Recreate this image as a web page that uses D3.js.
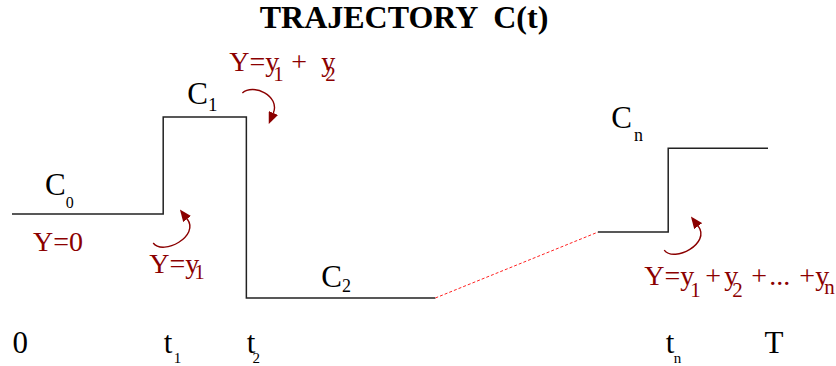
<html>
<head>
<meta charset="utf-8">
<script src="https://cdn.jsdelivr.net/npm/d3@7"></script>
</head>
<body style="margin:0;background:#fff">
<div id="chart"></div>
<script>
// trajectory C(t): piecewise constant, jumps at t1, t2, ..., tn
const title = "TRAJECTORY  C(t)";

// bottom labels (time axis)
const tickTimes = [0, 2.0, 3.1, 8.68, 10];
const tickNames = ["0", "t", "t", "t", "T"];
const tickSubs = ["", "1", "2", "n", ""];

// first stretch C0 -> C1 -> C2 (step after)
const times1 = [0, 2.0, 3.1, 5.6];
const levels1 = [2.32, 5, 0, 0];
// last stretch C(n-1) -> Cn
const times2 = [7.75, 8.68, 10];
const levels2 = [1.82, 4.14, 4.14];
// dotted gap between the two
const gapTimes = [5.6, 7.75];
const gapLevels = [0, 1.82];

const stateSubs = ["0", "1", "2", "n"];

const width = 836, height = 366;
const red = "#8b0000";
const fontName = "Liberation Serif";

const x = d3.scaleLinear().domain([0, 10]).range([12, 768]);
const y = d3.scaleLinear().domain([0, 5]).range([298, 117]);

const svg = d3.select("#chart")
    .append("svg")
    .attr("width", width)
    .attr("height", height);

function serifText(sel, size) {
    return sel.attr("font-family", fontName)
        .style("font-family", "'" + fontName + "'")
        .attr("font-size", size);
}

const defs = svg.append("defs");
defs.append("marker")
    .attr("id", "head")
    .attr("viewBox", "0 0 10 10")
    .attr("refX", 0)
    .attr("refY", 5)
    .attr("markerUnits", "userSpaceOnUse")
    .attr("markerWidth", 12)
    .attr("markerHeight", 10)
    .attr("preserveAspectRatio", "none")
    .attr("orient", "auto")
    .append("path")
    .attr("d", "M0,0 L10,5 L0,10 z")
    .attr("fill", red);

// title
serifText(svg.append("text"), 32)
    .attr("x", 404)
    .attr("y", 28)
    .attr("text-anchor", "middle")
    .attr("font-weight", "bold")
    .attr("xml:space", "preserve")
    .style("white-space", "pre")
    .text(title);

// step lines
var step = d3.line()
    .x(function (d) { return x(d[0]); })
    .y(function (d) { return y(d[1]); })
    .curve(d3.curveStepAfter);

svg.append("path")
    .datum(d3.zip(times1, levels1))
    .attr("d", step)
    .attr("fill", "none")
    .attr("stroke", "#222")
    .attr("stroke-width", 1.5);

svg.append("path")
    .datum(d3.zip(times2, levels2))
    .attr("d", step)
    .attr("fill", "none")
    .attr("stroke", "#222")
    .attr("stroke-width", 1.5);

svg.append("path")
    .datum(d3.zip(gapTimes, gapLevels))
    .attr("d", d3.line().x(d => x(d[0])).y(d => y(d[1])))
    .attr("fill", "none")
    .attr("stroke", "#f22")
    .attr("stroke-width", 1)
    .attr("stroke-dasharray", "3,2");

// time axis labels
var axis = svg.append("g")
    .attr("transform", "translate(0,353)")
    .call(d3.axisBottom(x)
        .tickValues(tickTimes)
        .tickSize(0)
        .tickFormat(function (d, i) { return tickNames[i]; }));
serifText(axis, 31);
axis.select(".domain").remove();
axis.selectAll(".tick line").remove();
var tickDx = [0, 0, 0, -3, -4];
var subDx = [0, 1.4, -3, -0.6, 0];
serifText(axis.selectAll(".tick text"), 31)
    .attr("y", 0)
    .attr("dy", 0)
    .attr("dx", function (d, i) { return tickDx[i]; })
    .attr("text-anchor", "start")
    .attr("fill", "#000")
    .each(function (d, i) {
        if (!tickSubs[i]) return;
        d3.select(this).append("tspan")
            .attr("dx", subDx[i])
            .attr("dy", 10)
            .attr("font-size", 15)
            .text(tickSubs[i]);
    });

// state labels C_k
function stateLabel(px, py, sub, subDx, subDy, subSize) {
    var t = serifText(svg.append("text"), 31)
        .attr("x", px)
        .attr("y", py)
        .text("C");
    t.append("tspan")
        .attr("dx", subDx)
        .attr("dy", subDy)
        .attr("font-size", subSize)
        .text(sub);
}
stateLabel(x(0) + 33, y(2.32) - 19, stateSubs[0], 0, 13, 16);
stateLabel(x(2.0) + 24, y(5) - 13, stateSubs[1], 0, 7, 19);
stateLabel(x(3.1) + 75, y(0) - 11, stateSubs[2], 0, 5, 18);
stateLabel(x(8.68) - 57, y(4.14) - 20, stateSubs[3], 2, 13, 18);

// red formulas for the jump value Y
function formula(px, py, parts) {
    var t = serifText(svg.append("text"), 28)
        .attr("fill", red);
    parts.forEach(function (p) {
        t.append("tspan")
            .attr("x", px + p[1])
            .attr("y", py + (p[2] || 0))
            .attr("font-size", p[2] ? 21 : null)
            .text(p[0]);
    });
}
formula(x(0) + 21, y(2.32) + 37, [["Y=0", 0]]);
formula(x(2.0) - 14, y(2.32) + 59, [["Y=y", 0], ["1", 45, 6]]);
formula(x(3.1) - 17, y(5) - 46, [["Y=y", 0], ["1", 44, 10], ["+", 62], ["y", 92], ["2", 96, 10]]);
formula(x(8.68) - 24, y(1.82) + 53, [["Y=y", 0], ["1", 46, 12], ["+", 61], ["y", 80], ["2", 88, 12],
    ["+", 107], ["...", 125], ["+", 155], ["y", 171], ["n", 180, 9]]);

// curved jump arrows
function arrow(px, py, d) {
    svg.append("path")
        .attr("transform", "translate(" + px + "," + py + ")")
        .attr("d", d)
        .attr("fill", "none")
        .attr("stroke", red)
        .attr("stroke-width", 1.4)
        .attr("marker-end", "url(#head)");
}
arrow(x(2.0) - 10, y(2.32) + 29, "M0,0 C10,13 47,-7 34,-24");
arrow(x(3.1) - 4, y(5) - 24, "M0,0 C11,-10 38,3 31,20");
arrow(x(8.68) - 4, y(1.82) + 18, "M0,0 C10,13 47,-7 34,-24");
</script>
</body>
</html>
